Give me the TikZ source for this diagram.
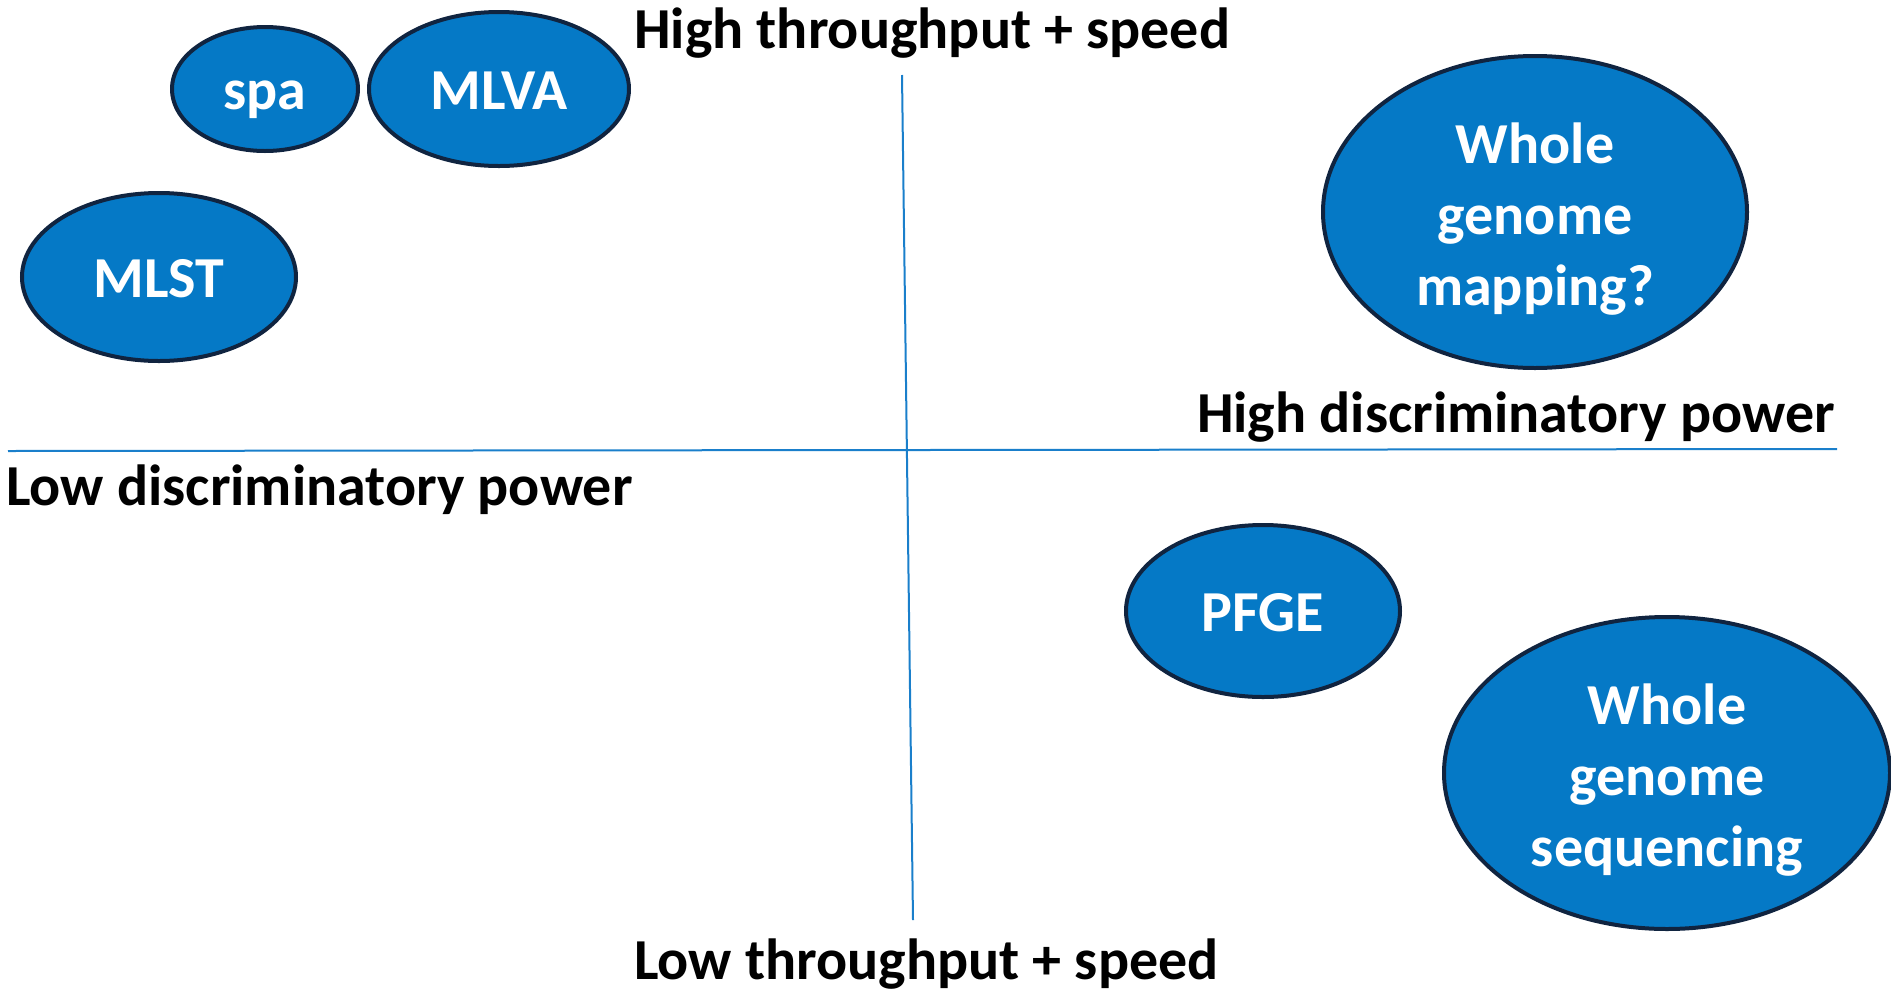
\documentclass[tikz,border=0pt]{standalone}
\usepackage{fontspec}
\setmainfont{Carlito}
\usetikzlibrary{shapes.geometric}
\definecolor{methodfill}{HTML}{0579C6}
\definecolor{methodedge}{HTML}{102440}
\definecolor{axisblue}{HTML}{1A7FCB}
\tikzset{
  method/.style={ellipse, draw=methodedge, line width=4pt, fill=methodfill,
    inner sep=0pt, text=white, align=center,
    font=\fontsize{58}{71}\selectfont\bfseries},
  oneline/.style={method, text height=40pt, text depth=0pt},
  axislabel/.style={inner sep=0pt, text=black,
    font=\fontsize{58}{71}\selectfont\bfseries},
  axisline/.style={draw=axisblue, line width=2pt}
}
% taller first line, so that the three lines sit a little lower
\newcommand{\firstlinestrut}{\rule{0pt}{54pt}}
\begin{document}
\begin{tikzpicture}[x=1pt,y=-1pt]
\useasboundingbox (0,0) rectangle (1891,994);

% axes
\coordinate (vtop) at (902,75);
\coordinate (vbot) at (913,920);
\coordinate (hleft) at (8,451);
\coordinate (hright) at (1837,449);
\draw[axisline] (vtop) -- (vbot);
\draw[axisline] (hleft) -- (hright);

% axis labels
\node[axislabel, anchor=base west] (hitp) at (634,48) {High throughput + speed};
\node[axislabel, anchor=base west] (lotp) at (634,979) {Low throughput + speed};
\node[axislabel, anchor=base east] (hidp) at (1835,432) {High discriminatory power};
\node[axislabel, anchor=base west] (lodp) at (6,505) {Low discriminatory power};

% typing methods
\node[oneline, minimum width=186pt, minimum height=124pt] (spa) at (265,89) {spa};
\node[oneline, minimum width=260pt, minimum height=154pt] (mlva) at (499,89) {MLVA};
\node[oneline, minimum width=274pt, minimum height=168pt] (mlst) at (159,277) {MLST};
\node[method, minimum width=424pt, minimum height=312pt] (wgm) at (1535,212) {\firstlinestrut Whole\\genome\\mapping?};
\node[oneline, minimum width=274pt, minimum height=172pt] (pfge) at (1263,611) {PFGE};
\node[method, minimum width=446pt, minimum height=312pt] (wgs) at (1667,773) {\firstlinestrut Whole\\genome\\sequencing};
\end{tikzpicture}
\end{document}
